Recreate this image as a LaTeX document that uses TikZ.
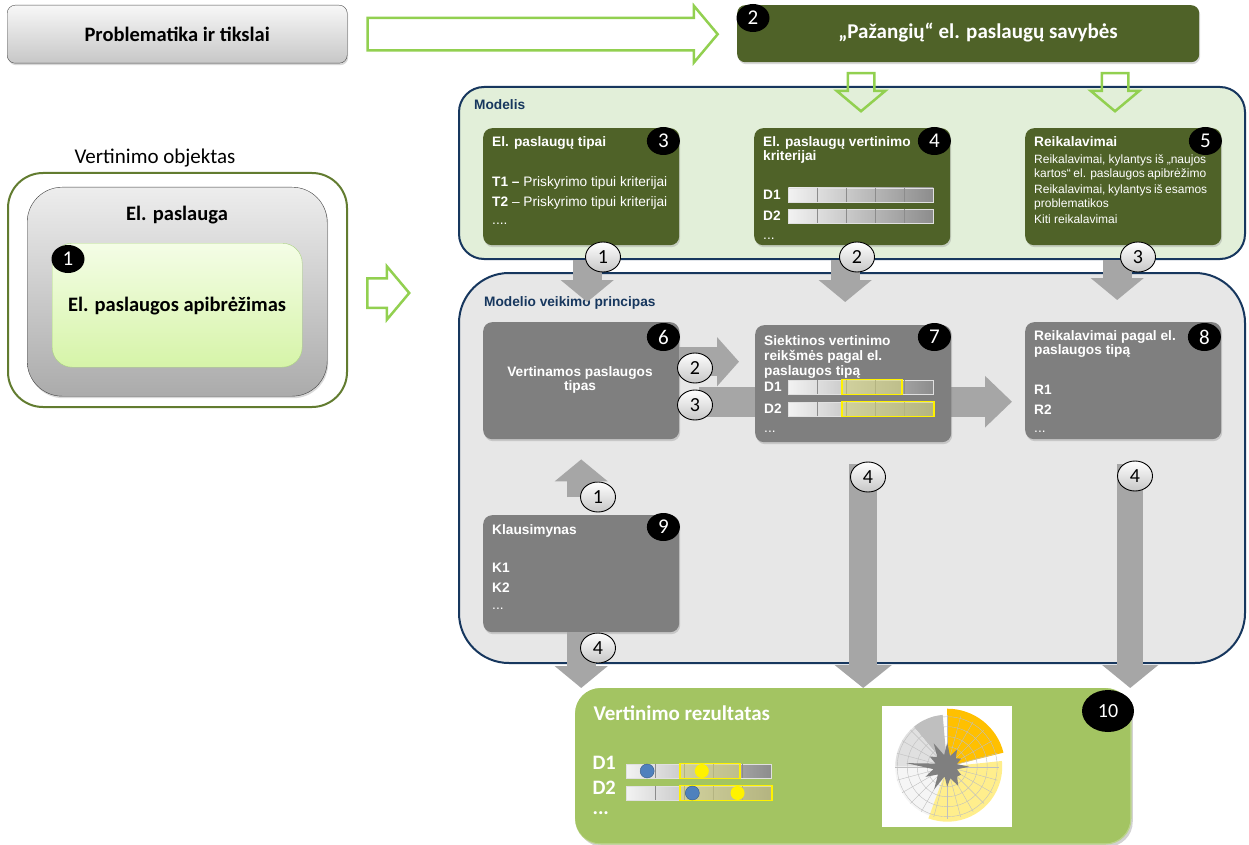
\documentclass[tikz,border=0pt]{standalone}
\usepackage{fontspec}
\setmainfont{Carlito}
\newfontfamily\arialfont{Liberation Sans}
\usetikzlibrary{shapes,arrows.meta,positioning,calc,shadows}

\definecolor{olivebox}{RGB}{79,98,40}
\definecolor{modelfill}{RGB}{226,239,217}
\definecolor{navyline}{RGB}{23,55,94}
\definecolor{principfill}{RGB}{231,231,231}
\definecolor{graybox}{RGB}{127,127,127}
\definecolor{fatgray}{RGB}{166,166,166}
\definecolor{resultgreen}{RGB}{163,196,98}
\definecolor{outlinegreen}{RGB}{146,208,80}
\definecolor{objline}{RGB}{98,124,48}
\definecolor{apibtop}{RGB}{244,253,230}
\definecolor{apibbottom}{RGB}{214,244,168}
\definecolor{apibline}{RGB}{170,210,130}
\definecolor{pickfill}{RGB}{214,214,120}
\definecolor{dotblue}{RGB}{79,129,189}
\definecolor{chartorange}{RGB}{255,192,0}
\definecolor{chartyellow}{RGB}{255,238,140}

\tikzset{
  olivecard/.style={fill=olivebox, rounded corners=9pt, minimum width=196pt, minimum height=117pt, inner sep=0pt, anchor=north west, drop shadow={opacity=0.3, shadow xshift=1pt, shadow yshift=-2pt}},
  graycard/.style={olivecard, fill=graybox},
  badge/.style={ellipse, fill=black, text=white, inner sep=0pt, minimum width=33pt, minimum height=28pt, font=\fontsize{21}{21}\selectfont},
  stepno/.style={ellipse, draw=black, line width=0.9pt, top color=white, bottom color=black!22, inner sep=0pt, minimum width=35pt, minimum height=30pt, font=\fontsize{20}{20}\selectfont},
  cardhead/.style={text=white, font=\arialfont\bfseries\fontsize{13.7}{14.5}\selectfont, align=left, anchor=north west, inner sep=0pt},
  cardtext/.style={text=white, font=\arialfont\fontsize{13.7}{14.5}\selectfont, anchor=west, inner sep=0pt},
  cardkey/.style={cardtext, font=\arialfont\bfseries\fontsize{13.7}{14.5}\selectfont},
  cardsmall/.style={text=white, font=\arialfont\fontsize{12}{14}\selectfont, anchor=north west, inner sep=0pt, align=left},
  areahead/.style={text=navyline, font=\arialfont\bfseries\fontsize{13.7}{14}\selectfont, anchor=west, inner sep=0pt},
  outarrow/.style={single arrow, draw=outlinegreen, line width=2.5pt, inner sep=0pt, single arrow head indent=0pt, single arrow tip angle=100},
  flow/.style={draw=fatgray, line width=29pt, -{Triangle[width=52pt,length=22pt]}},
  scalebar/.style={draw=black!12, line width=0.8pt, left color=black!5, right color=black!45, minimum width=145pt, minimum height=14pt, inner sep=0pt, anchor=west},
  pick/.style={draw=yellow, line width=1.6pt, fill=pickfill, fill opacity=0.55},
  bigtext/.style={font=\bfseries\fontsize{20.5}{21}\selectfont},
}

\begin{document}
\begin{tikzpicture}[x=1pt, y=-1pt]
\useasboundingbox (0,0) rectangle (1249,845);
\fill[white] (0,0) rectangle (1249,845);

% top row
\node[draw=black!70, rounded corners=8pt, top color=black!3, bottom color=black!22, minimum width=340pt, minimum height=58pt, anchor=north west, bigtext, drop shadow={opacity=0.3, shadow xshift=1pt, shadow yshift=-2pt}] (problem) at (7,5) {Problematika ir tikslai};
\node[outarrow, minimum height=350pt, inner ysep=15pt, single arrow head extend=12pt, right=19pt of problem] (toparrow) {};
\node[fill=olivebox, rounded corners=8pt, minimum width=462pt, minimum height=57pt, anchor=north west, drop shadow={opacity=0.3, shadow xshift=1pt, shadow yshift=-2pt}] (savybes) at (737,5) {};
\node[text=white, font=\bfseries\fontsize{21}{21}\selectfont] (savybestext) at (978,33) {„Pažangių“ el. paslaugų savybės};
\node[badge] (b2) at (753,18) {2};

% vertinimo objektas
\node[font=\fontsize{21}{21}\selectfont] (objlabel) at (155,158) {Vertinimo objektas};
\node[draw=objline, line width=2pt, rounded corners=35pt, minimum width=339pt, minimum height=234pt, anchor=north west] (objektas) at (7,172) {};
\node[draw=black!75, rounded corners=35pt, top color=black!7, bottom color=black!33, minimum width=300pt, minimum height=209pt, anchor=north west, drop shadow={opacity=0.3, shadow xshift=1pt, shadow yshift=-2pt}] (paslauga) at (27,187) {};
\node[bigtext] (paslaugatext) at (177,215) {El. paslauga};
\node[draw=apibline, rounded corners=20pt, top color=apibtop, bottom color=apibbottom, minimum width=250pt, minimum height=124pt, anchor=north west] (apibrezimas) at (52,243) {};
\node[bigtext] (apibreztext) at (177,306) {El. paslaugos apibrėžimas};
\node[badge] (b1) at (68,259) {1};
\node[outarrow, minimum height=42pt, inner ysep=13.5pt, single arrow head extend=12pt, anchor=tail] (objarrow) at (366,293) {};

% modelis
\node[draw=navyline, line width=2pt, fill=modelfill, rounded corners=25pt, minimum width=786pt, minimum height=172pt, anchor=north west] (modelis) at (458,86) {};
\node[areahead] (modelishead) at (474,105) {Modelis};
\node[outarrow, shape border rotate=270, minimum height=38pt, inner xsep=12pt, single arrow head extend=11pt, anchor=tail] (down1) at (861,72) {};
\node[outarrow, shape border rotate=270, minimum height=38pt, inner xsep=12pt, single arrow head extend=11pt, anchor=tail] (down2) at (1115,72) {};

\node[olivecard] (tipai) at (483,128) {};
\node[cardhead] (tipaihead) at (492,136) {El. paslaugų tipai};
\node[cardtext] (t1) at (492,183) {\textbf{T1 –} Priskyrimo tipui kriterijai};
\node[cardtext] (t2) at (492,203) {\textbf{T2} – Priskyrimo tipui kriterijai};
\node[cardtext] (tdots) at (492,224) {....};
\node[badge] (b3) at ([xshift=-16pt,yshift=-13pt]tipai.north east) {3};

\node[olivecard] (kriterijai) at (754,128) {};
\node[cardhead] (kriterijaihead) at (763,136) {El. paslaugų vertinimo\\kriterijai};
\node[cardkey] (d1) at (763,195) {D1};
\node[scalebar] (d1bar) at (788,195) {};
\node[cardkey] (d2) at (763,216) {D2};
\node[scalebar] (d2bar) at (788,216) {};
\node[cardtext] (ddots) at (763,239) {...};
\node[badge] (b4) at ([xshift=-16pt,yshift=-13pt]kriterijai.north east) {4};

\node[olivecard] (reikalavimai) at (1025,128) {};
\node[cardhead] (reikhead) at (1034,136) {Reikalavimai};
\node[cardsmall] (reik1) at (1034,155) {\makebox[172pt][s]{Reikalavimai, kylantys iš „naujos}\\\makebox[172pt][s]{kartos“ el. paslaugos apibrėžimo}};
\node[cardsmall] (reik2) at (1034,185) {\makebox[173pt][s]{Reikalavimai, kylantys iš esamos}\\problematikos};
\node[cardsmall] (reik3) at (1034,215) {Kiti reikalavimai};
\node[badge] (b5) at ([xshift=-16pt,yshift=-13pt]reikalavimai.north east) {5};

% modelio veikimo principas
\node[draw=navyline, line width=2pt, fill=principfill, rounded corners=50pt, minimum width=786pt, minimum height=390pt, anchor=north west] (principas) at (458,272) {};
\node[areahead] (principashead) at (484,303) {Modelio veikimo principas};

\node[fill=resultgreen, draw=resultgreen!75!white, line width=1.5pt, rounded corners=25pt, minimum width=555pt, minimum height=155pt, anchor=north west, drop shadow={opacity=0.35, shadow xshift=2pt, shadow yshift=-3pt}] (rezultatas) at (575,688) {};

\node[graycard] (vertinamos) at (483,322) {};
\node[text=white, font=\arialfont\bfseries\fontsize{13.7}{14}\selectfont, align=center] (vertinamostext) at (580,380) {Vertinamos paslaugos\\tipas};
\node[badge] (b6) at ([xshift=-16pt,yshift=-15pt]vertinamos.north east) {6};

\node[graycard] (pagaltipa) at (1025,322) {};
\node[cardhead] (pagalhead) at (1034,330) {Reikalavimai pagal el.\\paslaugos tipą};
\node[cardkey] (r1) at (1034,390) {R1};
\node[cardkey] (r2) at (1034,410) {R2};
\node[cardtext] (rdots) at (1034,432) {...};
\node[badge] (b8) at ([xshift=-17pt,yshift=-15pt]pagaltipa.north east) {8};

\draw[flow, line width=30pt, -{Triangle[width=50pt,length=27pt]}, shorten >=13pt] ([xshift=20pt,yshift=-21pt]vertinamos.east) -- ([yshift=-21pt]vertinamos.east -| pagaltipa.west);

\node[graycard] (siektinos) at (755,325) {};
\node[cardhead, font=\arialfont\bfseries\fontsize{13.7}{15}\selectfont] (siektinoshead) at (764,335) {Siektinos vertinimo\\reikšmės pagal el.\\paslaugos tipą};
\node[cardkey] (s1) at (764,387) {D1};
\node[scalebar] (s1bar) at (788,387) {};
\node[cardkey] (s2) at (764,409) {D2};
\node[scalebar] (s2bar) at (788,409) {};
\node[cardtext] (sdots) at (764,432) {...};
\node[badge] (b7) at ([xshift=-17pt,yshift=-12pt]siektinos.north east) {7};

\node[graycard] (klausimynas) at (483,515) {};
\node[cardhead] (klaushead) at (492,524) {Klausimynas};
\node[cardkey] (k1) at (492,568) {K1};
\node[cardkey] (k2) at (492,588) {K2};
\node[cardtext] (kdots) at (492,609) {...};
\node[badge] (b9) at ([xshift=-16pt,yshift=-12pt]klausimynas.north east) {9};

% flows
\draw[flow, shorten >=20pt] ([xshift=6pt]tipai.south |- modelis.south) -- ([xshift=6pt]vertinamos.north);
\draw[flow, shorten >=23pt] ([xshift=-7pt]kriterijai.south |- modelis.south) -- ([xshift=-7pt]kriterijai.south |- siektinos.north);
\draw[flow, shorten >=22pt] ([xshift=-6pt]reikalavimai.south |- modelis.south) -- ([xshift=-6pt]pagaltipa.north);
\draw[flow, -{Triangle[width=48pt,length=22pt]}, shorten >=16pt] ([yshift=19pt]vertinamos.east) -- ([yshift=19pt]vertinamos.east -| siektinos.west);
\draw[flow, shorten >=20pt] ([yshift=18pt]klausimynas.north) -- (vertinamos.south);
\draw[flow] (klausimynas.south) -- (klausimynas.south |- rezultatas.north);
\draw[flow, line width=28pt, -{Triangle[width=56pt,length=23pt]}] ([xshift=10pt,yshift=-22pt]siektinos.south) -- ([xshift=10pt]siektinos.south |- rezultatas.north);
\draw[flow, line width=26pt, -{Triangle[width=55pt,length=23pt]}] ([xshift=7pt,yshift=-25pt]pagaltipa.south) -- ([xshift=7pt]pagaltipa.south |- rezultatas.north);

% vertinimo rezultatas
\node[fill=resultgreen, rounded corners=25pt, minimum width=555pt, minimum height=155pt, anchor=north west] (rezultatasfill) at (575,688) {};
\node[text=white, anchor=west, font=\bfseries\fontsize{21}{21}\selectfont] (rezhead) at (590,713) {Vertinimo rezultatas};
\node[text=white, anchor=west, bigtext] (v1) at (589,763) {D1};
\node[scalebar] (v1bar) at (626,771) {};
\node[text=white, anchor=west, bigtext] (v2) at (589,788) {D2};
\node[scalebar] (v2bar) at (626,793) {};
\node[text=white, anchor=west, bigtext] (vdots) at (589,813) {...};
\node[badge, minimum width=52pt, minimum height=42pt, font=\fontsize{20}{20}\selectfont] (b10) at (1108,711) {10};

% scale bars
\foreach \bar in {d1bar,d2bar,s1bar,s2bar,v1bar,v2bar}
  \foreach \s in {1,...,4}
    \draw[black!45, line width=0.7pt] ($(\bar.north west)!\s/5!(\bar.north east)$) -- ($(\bar.south west)!\s/5!(\bar.south east)$);
\draw[pick] ($(s1bar.north west)!0.37!(s1bar.north east)$) rectangle ($(s1bar.south west)!0.78!(s1bar.south east)$);
\draw[pick] ($(s2bar.north west)!0.37!(s2bar.north east)$) rectangle (s2bar.south east);
\draw[pick] ($(v1bar.north west)!0.37!(v1bar.north east)$) rectangle ($(v1bar.south west)!0.78!(v1bar.south east)$);
\draw[pick] ($(v2bar.north west)!0.37!(v2bar.north east)$) rectangle (v2bar.south east);
\fill[dotblue, draw=dotblue!70!black] ($(v1bar.west)!0.145!(v1bar.east)$) circle[radius=7pt];
\fill[yellow] ($(v1bar.west)!0.52!(v1bar.east)$) circle[radius=7pt];
\fill[dotblue, draw=dotblue!70!black] ($(v2bar.west)!0.455!(v2bar.east)$) circle[radius=7pt];
\fill[yellow] ($(v2bar.west)!0.765!(v2bar.east)$) circle[radius=7pt];

% radar chart
\node[fill=white, minimum width=130pt, minimum height=121pt, inner sep=0pt, anchor=north west] (chart) at (882,706) {};
\begin{scope}[shift={(chart.center)}, y=1pt]
\fill[black!25] (0,0) -- (95:52) arc[start angle=95, end angle=130, radius=52] -- cycle;
\fill[black!12] (0,0) -- (130:52) arc[start angle=130, end angle=180, radius=52] -- cycle;
\fill[black!4] (0,0) -- (180:52) arc[start angle=180, end angle=250, radius=52] -- cycle;
\fill[chartyellow] (0,0) -- (250:55) arc[start angle=250, end angle=366, radius=55] -- cycle;
\fill[chartorange] (0,0) -- (14:58) arc[start angle=14, end angle=90, radius=58] -- cycle;
\foreach \r in {10,20,30,40,50}
  \draw[black!25, line width=0.4pt] (0,0) circle[radius=\r];
\foreach \a in {0,15,...,345}
  \draw[black!25, line width=0.4pt] (0,0) -- (\a:52);
\fill[graybox] (0:22) -- (15:10) -- (30:16) -- (45:12) -- (60:20) -- (75:11) -- (90:24) -- (105:12) -- (120:27) -- (135:14) -- (150:20) -- (165:12) -- (175:41) -- (190:14) -- (205:24) -- (220:12) -- (240:26) -- (255:10) -- (270:20) -- (285:12) -- (300:22) -- (315:14) -- (330:16) -- (345:10) -- cycle;
\end{scope}

% step numbers
\node[stepno] (m1) at (603,257) {1};
\node[stepno] (m2) at (857,257) {2};
\node[stepno] (m3) at (1138,257) {3};
\node[stepno] (p2) at (695,368) {2};
\node[stepno] (p3) at (695,405) {3};
\node[stepno] (p1) at (598,497) {1};
\node[stepno] (p4) at (598,648) {4};
\node[stepno] (s4) at (868,477) {4};
\node[stepno] (r4) at (1135,476) {4};
\end{tikzpicture}
\end{document}
